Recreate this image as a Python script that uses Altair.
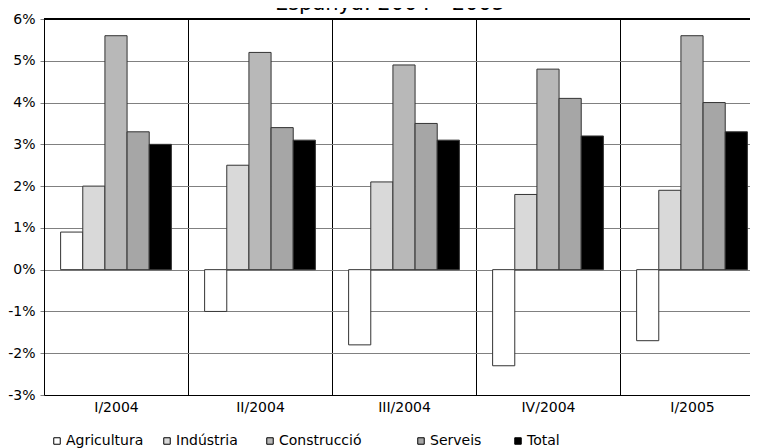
import altair as alt
import pandas as pd

quarters = ["I/2004", "II/2004", "III/2004", "IV/2004", "I/2005"]
series = ["Agricultura", "Indústria", "Construcció", "Serveis", "Total"]
agricultura = [0.9, -1.0, -1.8, -2.3, -1.7]
industria = [2.0, 2.5, 2.1, 1.8, 1.9]
construccio = [5.6, 5.2, 4.9, 4.8, 5.6]
serveis = [3.3, 3.4, 3.5, 4.1, 4.0]
total = [3.0, 3.1, 3.1, 3.2, 3.3]
colors = ["#ffffff", "#d9d9d9", "#b8b8b8", "#a6a6a6", "#000000"]
y_ticks = [-3, -2, -1, 0, 1, 2, 3, 4, 5, 6]

values = [agricultura, industria, construccio, serveis, total]
rows = []
for s, vals in zip(series, values):
    for q, v in zip(quarters, vals):
        rows.append({"quarter": q, "series": s, "value": v})
df = pd.DataFrame(rows)

FONT = "DejaVu Sans"
NB = "\u00a0"
ZW = "\u200b"
legend_label_expr = (
    f"datum.label == 'Indústria' ? datum.label + '{NB * 2}{ZW}' : "
    f"datum.label == 'Construcció' ? datum.label + '{NB * 8}{ZW}' : "
    f"datum.label == 'Serveis' ? datum.label + '{NB * 3}{ZW}' : datum.label"
)

bars = alt.Chart(df).mark_bar(stroke="#333333", strokeWidth=1).encode(
    x=alt.X(
        "quarter:N",
        sort=quarters,
        scale=alt.Scale(paddingInner=0, paddingOuter=0, range=[0, 720]),
        axis=alt.Axis(
            title=None,
            labelAngle=0,
            grid=True,
            gridColor="#000000",
            gridOpacity=1,
            tickBand="extent",
            ticks=False,
            domain=True,
            domainColor="#000000",
            labelFontSize=14,
            labelFont=FONT,
            labelColor="#000000",
            labelPadding=5,
        ),
    ),
    xOffset=alt.XOffset(
        "series:N", sort=series, scale=alt.Scale(paddingInner=0, paddingOuter=0.75)
    ),
    y=alt.Y(
        "value:Q",
        scale=alt.Scale(domain=[-3, 6], nice=False, zero=False),
        axis=alt.Axis(
            title=None,
            values=y_ticks,
            labelExpr="datum.value + '%'",
            grid=True,
            gridColor="#808080",
            gridOpacity=1,
            domainColor="#000000",
            tickColor="#808080",
            tickSize=4,
            labelFontSize=14,
            labelFont=FONT,
            labelColor="#000000",
            labelPadding=5,
        ),
    ),
    color=alt.Color(
        "series:N",
        sort=series,
        scale=alt.Scale(domain=series, range=colors),
        legend=alt.Legend(
            title=None,
            orient="none",
            legendX=6,
            legendY=415,
            direction="horizontal",
            columns=5,
            symbolType="square",
            symbolSize=42,
            symbolStrokeColor="#000000",
            symbolStrokeWidth=1,
            symbolOpacity=1,
            labelFontSize=14,
            labelFont=FONT,
            labelColor="#000000",
            labelOffset=2,
            columnPadding=16,
            labelExpr=legend_label_expr,
            padding=0,
        ),
    ),
)

top_rule = alt.Chart(df).mark_rule(color="#000000", strokeWidth=1).encode(
    y=alt.datum(6), x=alt.value(0), x2=alt.value(720)
)

chart = (
    alt.layer(bars, top_rule)
    .properties(
        width=706,
        height=376,
        title=alt.TitleParams(
            "Espanya. 2004 - 2005",
            font=FONT,
            fontSize=21,
            fontWeight="normal",
            color="#000000",
            anchor="middle",
            offset=-2,
            dx=-7,
        ),
        autosize=alt.AutoSizeParams(type="none"),
        padding={"left": 36, "top": 11, "right": 0, "bottom": 53},
    )
    .configure_view(stroke=None)
)

chart.save("out.html", embed_options={"renderer": "svg", "actions": False})
